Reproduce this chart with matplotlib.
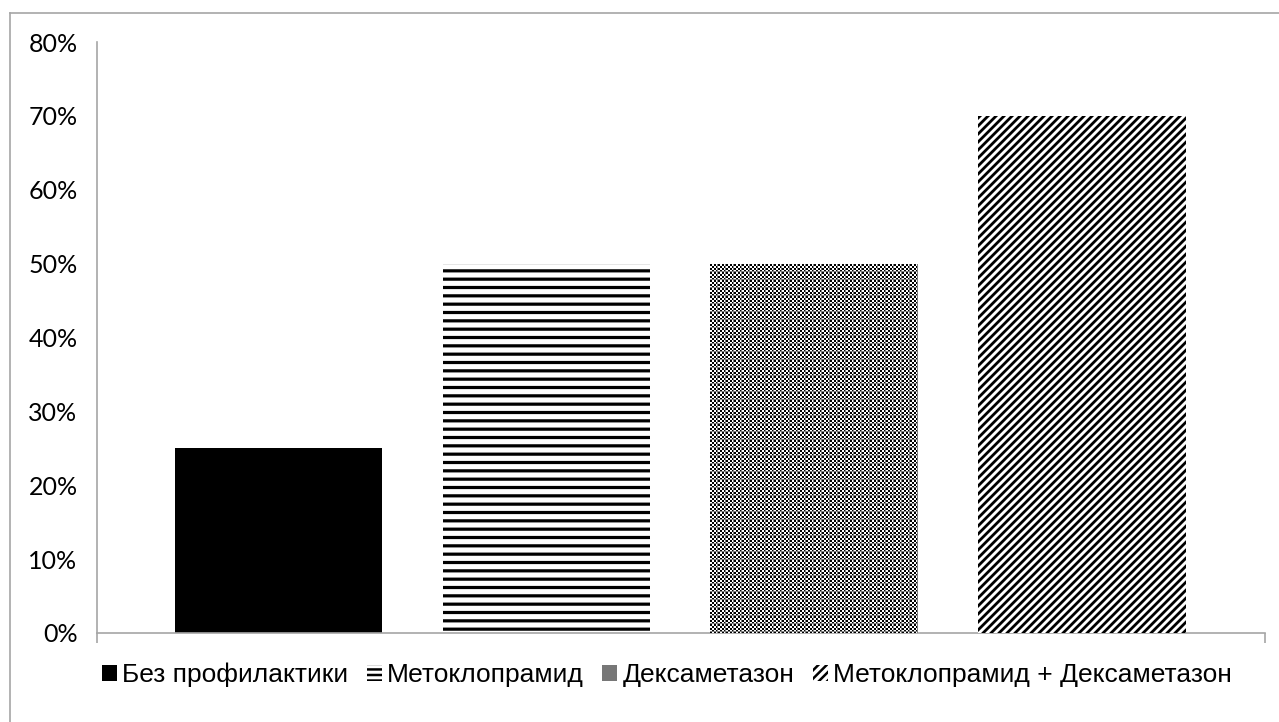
import matplotlib
matplotlib.use("Agg")
import matplotlib.pyplot as plt
import numpy as np
from matplotlib.lines import Line2D
from matplotlib.patches import Patch

series = ["Без профилактики", "Метоклопрамид", "Дексаметазон", "Метоклопрамид + Дексаметазон"]
values = [25, 50, 50, 70]
yticks = [0, 10, 20, 30, 40, 50, 60, 70, 80]
ytick_labels = ["0%", "10%", "20%", "30%", "40%", "50%", "60%", "70%", "80%"]

W, H = 1279, 722
fig = plt.figure(figsize=(W / 100, H / 100), dpi=100)
ax = fig.add_axes([97 / W, 1 - 633 / H, (1265 - 97) / W, (633 - 42) / H])

xpos = np.arange(len(series))
width = 207 / 268
XL = ((97 - 278) / 268, (1265 - 278) / 268)
ax.set_xlim(*XL)
ax.set_ylim(0, 80)

bars = []
for i, (x, v) in enumerate(zip(xpos, values)):
    with plt.rc_context({"hatch.linewidth": 2.3, "hatch.color": "black"}):
        if i == 0:
            b = ax.bar(x, v, width=width, color="black", edgecolor="none", linewidth=0)
        elif i == 1:
            b = ax.bar(x, v, width=width, color="white", edgecolor="black",
                       linewidth=0, hatch="--")
        else:
            b = ax.bar(x, v, width=width, color="white", edgecolor="none", linewidth=0)
    bars.append(b[0])


def pattern_fill(rect, kind):
    x0, y0 = rect.get_x(), rect.get_y()
    x1, y1 = x0 + rect.get_width(), y0 + rect.get_height()
    p0 = ax.transData.transform((x0, y0))
    p1 = ax.transData.transform((x1, y1))
    px0, py0 = int(round(p0[0])), int(round(p0[1]))
    nx = int(round(p1[0])) - px0
    ny = int(round(p1[1])) - py0
    yy, xx = np.mgrid[0:ny, 0:nx]
    if kind == "checker":
        checker = (((yy // 2) + (xx // 2)) % 2).astype(float)
        grid = ((yy % 8) == 7) | ((xx % 8) == 7)
        img = np.where(grid, 0.5, checker)
    else:
        ph = (xx + yy) % 8
        img = np.where(ph < 3, 0.0, np.where(ph == 3, 0.45, np.where(ph == 7, 0.6, 1.0)))
    fig.figimage(img, xo=px0, yo=py0, cmap="gray", vmin=0, vmax=1,
                 origin="upper", zorder=3)


pattern_fill(bars[2], "checker")
pattern_fill(bars[3], "diag")

for s in ["top", "right"]:
    ax.spines[s].set_visible(False)
for s in ["left", "bottom"]:
    ax.spines[s].set_color("#A6A6A6")
    ax.spines[s].set_linewidth(1.2)

ax.set_yticks(yticks)
ax.set_yticklabels(ytick_labels, fontfamily="Lato", fontsize=18)
ax.tick_params(axis="y", length=0, pad=14)
ax.set_xticks(list(XL))
ax.set_xticklabels([])
ax.tick_params(axis="x", length=7, color="#A6A6A6", width=1.2, direction="out")

handles = [
    Patch(facecolor="black", edgecolor="none"),
    Patch(facecolor="white", edgecolor="black", hatch="---", linewidth=0),
    Patch(facecolor="#777777", edgecolor="none"),
    Patch(facecolor="white", edgecolor="black", hatch="////", linewidth=0),
]
with plt.rc_context({"hatch.linewidth": 1.8}):
    leg = fig.legend(handles, series, loc="center", bbox_to_anchor=(667 / W, 1 - 675 / H),
                     ncol=4, frameon=False, handlelength=0.57, handleheight=0.57,
                     handletextpad=0.2, columnspacing=0.7,
                     prop={"family": "Liberation Sans", "size": 19})

fig.add_artist(Line2D([10 / W, 10 / W], [0, 1 - 13 / H], transform=fig.transFigure,
                      color="#A6A6A6", linewidth=1.2))
fig.add_artist(Line2D([10 / W, 1], [1 - 13 / H, 1 - 13 / H], transform=fig.transFigure,
                      color="#A6A6A6", linewidth=1.2))

fig.savefig("out.png", dpi=100, facecolor="white")
